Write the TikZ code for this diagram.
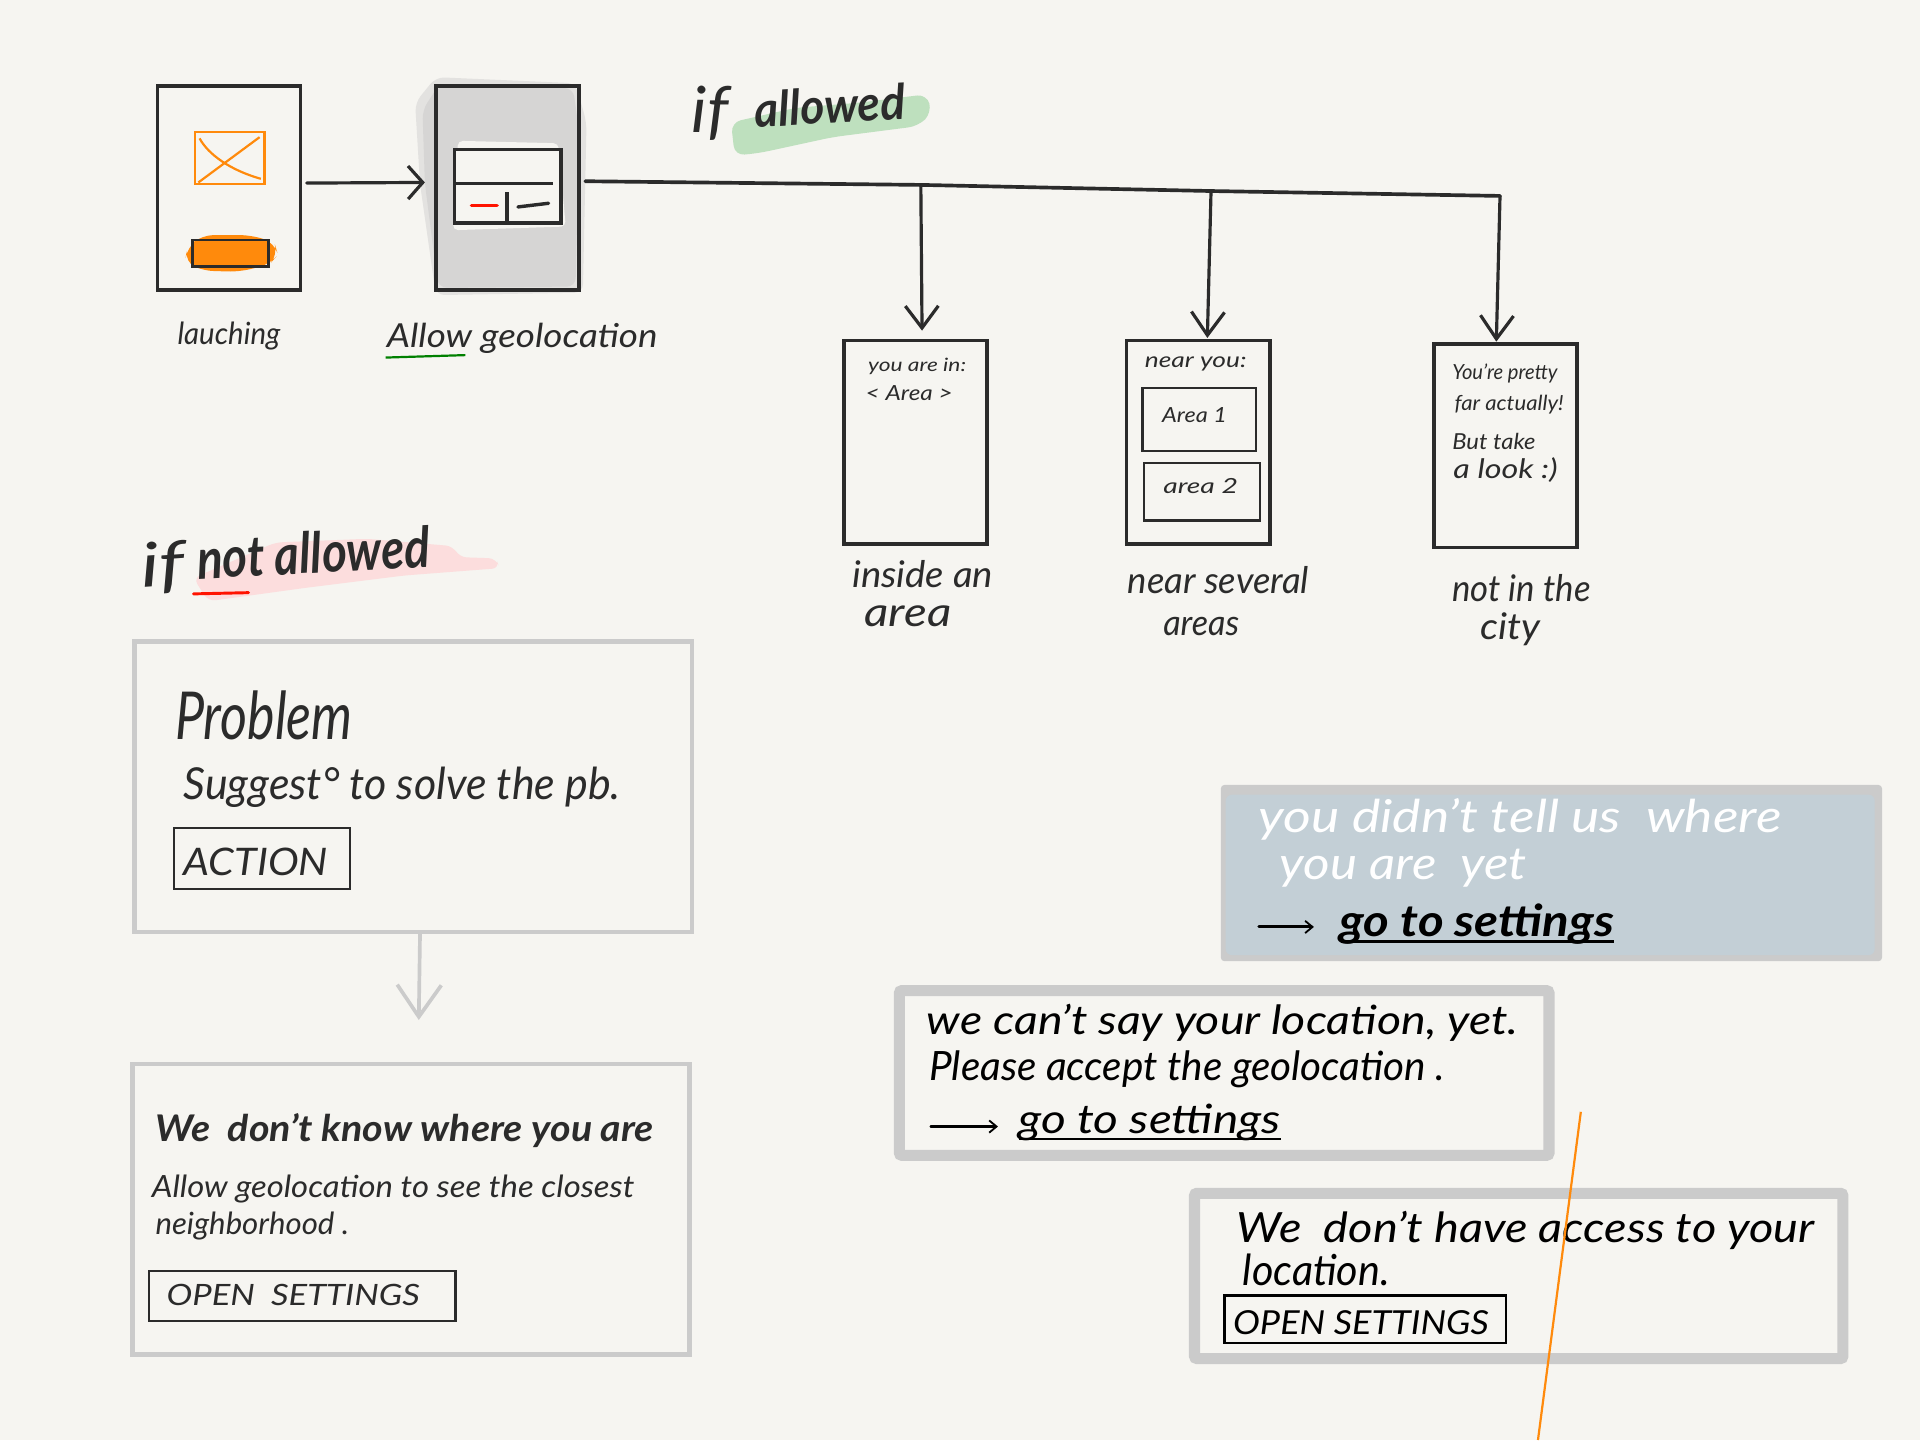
\documentclass[tikz,border=0pt]{standalone}
\usepackage{graphicx}
\usepackage{fontspec}
\setmainfont{Lato}
\usetikzlibrary{arrows.meta}
\definecolor{paper}{HTML}{F6F5F1}
\definecolor{ink}{HTML}{2B2B2B}
\definecolor{hgray}{HTML}{CBCBCB}
\definecolor{hblue}{HTML}{C3CFD6}
\definecolor{hgreen}{HTML}{BEE0BE}
\definecolor{hpink}{HTML}{FCDDDD}
\definecolor{horange}{HTML}{FF8A0C}
\newcommand{\handw}[2]{\resizebox{#1pt}{\height}{#2}}
\tikzset{
  scr_b/.style = {draw=ink, line width=3pt, minimum width=117pt, minimum height=167pt,
    inner sep=0pt, outer sep=0pt},
  area_b/.style = {draw=ink, line width=1.8pt, inner sep=0pt, outer sep=0pt},
  btn_b/.style = {draw=ink, line width=1.8pt, inner sep=0pt, outer sep=0pt},
  card_b/.style = {draw=hgray, line width=3.8pt, minimum width=455pt, minimum height=237pt,
    inner sep=0pt, outer sep=0pt},
  pop_b/.style = {draw=hgray, line width=9pt, fill=paper, rounded corners=2pt,
    inner sep=0pt, outer sep=0pt},
  txt_h/.style = {anchor=base west, inner sep=0pt, outer sep=0pt, text=ink,
    font=\itshape\fontsize{#1}{#1}\selectfont},
  flow_a/.style = {draw=ink, line width=2.6pt, line cap=round,
    -{Straight Barb[length=#1pt, width=27pt, line width=2.6pt]}},
  go_a/.style = {line width=1.8pt, line cap=round,
    -{Straight Barb[length=6pt, width=10pt, line width=1.5pt]}}
}
\begin{document}
\begin{tikzpicture}[x=1pt, y=-1pt]
\useasboundingbox (0,0) rectangle (1568,1176);
\fill[paper] (0,0) rectangle (1568,1176);

% highlights
\fill[hgreen, rounded corners=8pt] (597,100) -- (650,88) -- (700,84) -- (757,77) -- (761,92) -- (750,103) -- (680,112) -- (620,125) -- (600,127) -- cycle;
\fill[hpink, rounded corners=6pt] (158,472) -- (225,443) -- (300,440) -- (370,446) -- (375,455) -- (405,456) -- (408,464) -- (330,470) -- (250,480) -- (170,491) -- cycle;
\fill[hgray!45!paper, rounded corners=7pt] (339,84) -- (356,63) -- (470,68) -- (479,100) -- (476,239) -- (356,241) -- (343,150) -- cycle;
\fill[hgray!75!paper, rounded corners=7pt] (345,90) -- (358,70) -- (468,72) -- (473,108) -- (470,234) -- (358,235) -- (347,150) -- cycle;
\fill[horange, rounded corners=9pt] (153,202) -- (165,192) -- (205,192) -- (224,198) -- (227,208) -- (220,216) -- (195,222) -- (165,221) -- (151,214) -- cycle;

% first screens
\node[scr_b] (s1) at (187,153.5) {};
\node[scr_b] (s2) at (414.5,153.5) {};
\node[btn_b, draw=horange, minimum width=57pt, minimum height=42pt] (img) at (187.5,129) {};
\draw[horange, line width=1.8pt] (163,113) .. controls (170,126) and (188,139) .. (213,146);
\draw[horange, line width=1.8pt] (162,149) -- (212,112);
\node[btn_b, line width=2.4pt, minimum width=62pt, minimum height=22pt] (cta) at (188,207) {};
\fill[paper, rounded corners=4pt] (374,115) -- (456,117) -- (462,185) -- (370,188) -- cycle;
\node[area_b, line width=2.8pt, fill=paper, minimum width=87pt, minimum height=60pt] (dlg) at (414.5,152) {};
\draw[ink, line width=2.8pt] (dlg.west |- 0,150) -- (452,150);
\draw[ink, line width=2.8pt] (414,157) -- (dlg.south -| 414,0);
\draw[red!85!orange, line width=2.8pt, line cap=round] (385,168) -- (406,168);
\draw[ink, line width=2.8pt, line cap=round] (423,169) -- (448,166);
\node[txt_h=25] (t1) at (145,281) {\handw{84}{lauching}};
\node[txt_h=27] (t2) at (316,284) {\handw{221}{Allow geolocation}};
\draw[green!50!black, line width=1.8pt] (315,292) -- (380,290);
\draw[flow_a=12] (s1.east) ++(5,-4) coordinate (ar1) (ar1) -- (347,149) coordinate (ar2);

% result screens
\node[scr_b, minimum height=166pt] (s3) at (747.5,361) {};
\node[scr_b, minimum height=166pt] (s4) at (978.5,361) {};
\node[scr_b, minimum height=166pt] (s5) at (1229.5,364) {};
\node[area_b] (a1) at (979.5,342.5) [minimum width=93pt, minimum height=51pt] {};
\node[area_b] (a2) at (981.5,401.5) [minimum width=95pt, minimum height=47pt] {};
\coordinate (j1) at (752,151);
\coordinate (j2) at (989,156);
\coordinate (j3) at (1225,160);
\draw[ink, line width=3pt, line cap=round] (478,148) -- (j1) -- (j2) -- (j3);
\draw[flow_a=18] (j1) -- (753,270) coordinate (e1);
\draw[flow_a=19] (j2) -- (986,276) coordinate (e2);
\draw[flow_a=19] (j3) -- (1222,279) coordinate (e3);

\node[txt_h=15] (p1) at (709,303) {\handw{80}{you are in:}};
\node[txt_h=17] (p2) at (707,327) {\handw{71}{< Area >}};
\node[txt_h=17] (p3) at (935,300) {\handw{83}{near you:}};
\node[txt_h=17] (p4) at (949,345) {\handw{53}{Area 1}};
\node[txt_h=17] (p5) at (950,403) {\handw{61}{area 2}};
\node[txt_h=17] (p6) at (1186,310) {\handw{86}{You're pretty}};
\node[txt_h=17] (p7) at (1188,335) {\handw{89}{far actually!}};
\node[txt_h=18] (p8) at (1186,367) {\handw{68}{But take}};
\node[txt_h=22] (p9) at (1187,391) {\handw{85}{a look :)}};
\node[txt_h=30] (t3) at (696,480) {\handw{115}{inside an}};
\node[txt_h=33] (t4) at (706,512) {\handw{71}{area}};
\node[txt_h=30] (t5) at (921,485) {\handw{148}{near several}};
\node[txt_h=29] (t6) at (950,519) {\handw{62}{areas}};
\node[txt_h=30] (t7) at (1186,491) {\handw{113}{not in the}};
\node[txt_h=30] (t8) at (1209,522) {\handw{49}{city}};

% section titles
\node[txt_h=52] (h1) at (565,108) {\handw{30}{if}};
\node[txt_h=40, font=\itshape\bfseries\fontsize{40}{40}\selectfont, rotate=3] (h2) at (617,104) {\handw{123}{allowed}};
\node[txt_h=50, rotate=4] (h3) at (116,480) {\handw{36}{if}};
\node[txt_h=46, font=\itshape\bfseries\fontsize{46}{46}\selectfont, rotate=3] (h4) at (162,473) {\handw{190}{not allowed}};
\draw[red!85!orange, line width=2.4pt, line cap=round] (158,485) -- (203,484);

% cards
\node[card_b] (c1) at (337.5,642.5) {};
\node[card_b] (c2) at (335.5,987.5) {};
\node[txt_h=54] (c1a) at (143,604) {\handw{145}{Problem}};
\node[txt_h=36] (c1b) at (150,653) {\handw{357}{Suggest° to solve the pb.}};
\node[btn_b, minimum width=144pt, minimum height=50pt] (b1) at (214,701) {};
\node[txt_h=31] (b1t) at (150,715) {\handw{118}{ACTION}};
\coordinate (a3) at (343,763);
\coordinate (a4) at (342,833);
\draw[hgray, line width=3pt, line cap=round, -{Straight Barb[length=26pt, width=36pt, line width=3pt]}] (a3) -- (a4);
\node[txt_h=30, font=\itshape\bfseries\fontsize{30}{30}\selectfont] (c2a) at (127,932) {\handw{407}{We\ \ don't know where you are}};
\node[txt_h=25] (c2b) at (124,978) {\handw{394}{Allow geolocation to see the closest}};
\node[txt_h=25] (c2c) at (127,1008) {\handw{158}{neighborhood .}};
\node[btn_b, minimum width=250pt, minimum height=41pt] (b2) at (247,1058.5) {};
\node[txt_h=24] (b2t) at (136,1066) {\handw{207}{OPEN\ \ SETTINGS}};

% popups
\node[draw=none, fill=hgray, rounded corners=3pt, minimum width=540pt, minimum height=144pt, inner sep=0pt] (m1) at (1267,713) {};
\node[draw=none, fill=hblue, rounded corners=5pt, minimum width=530pt, minimum height=131pt, inner sep=0pt] (m1i) at (1266,714.5) {};
\node[txt_h=37, text=white] (m1a) at (1028,680) {\handw{427}{you didn't\ tell us\ \ where}};
\node[txt_h=37, text=white] (m1b) at (1045,718) {\handw{202}{you are\ \ yet}};
\coordinate (g1) at (1028,757);
\coordinate (g2) at (1073,757);
\draw[go_a, black, line width=2.4pt] (g1) -- (g2);
\node[txt_h=36, text=black, font=\itshape\bfseries\fontsize{36}{36}\selectfont] (m1c) at (1094,765) {\handw{224}{go to settings}};
\draw[black, line width=2.6pt] (1095,769) -- (1318,769);

\node[pop_b, minimum width=530.5pt, minimum height=134.5pt] (m2) at (999.75,876.25) {};
\node[txt_h=33, text=black] (m2a) at (757,845) {\handw{483}{we can't say your\ location, yet.}};
\node[txt_h=33, text=black] (m2b) at (759,882) {\handw{421}{Please accept the geolocation .}};
\coordinate (g3) at (760,920);
\coordinate (g4) at (815,920);
\draw[go_a, black] (g3) -- (g4);
\node[txt_h=33, text=black] (m2c) at (832,926) {\handw{214}{go to settings}};
\draw[black, line width=1.5pt] (832,930) -- (1046,930);

\node[pop_b, minimum width=529.5pt, minimum height=135pt] (m3) at (1240.25,1042) {};
\node[txt_h=34, text=black] (m3a) at (1010,1015) {\handw{472}{We\ \ don't have access to your}};
\node[txt_h=35, text=black] (m3b) at (1015,1050) {\handw{120}{location.}};
\node[btn_b, draw=black, minimum width=230pt, minimum height=39pt] (b3) at (1115,1077.5) {};
\node[txt_h=27, text=black] (b3t) at (1007,1090) {\handw{209}{OPEN\ SETTINGS}};

% stray stroke
\draw[horange, line width=1.8pt] (1291,908) -- (1256,1176);
\end{tikzpicture}
\end{document}
